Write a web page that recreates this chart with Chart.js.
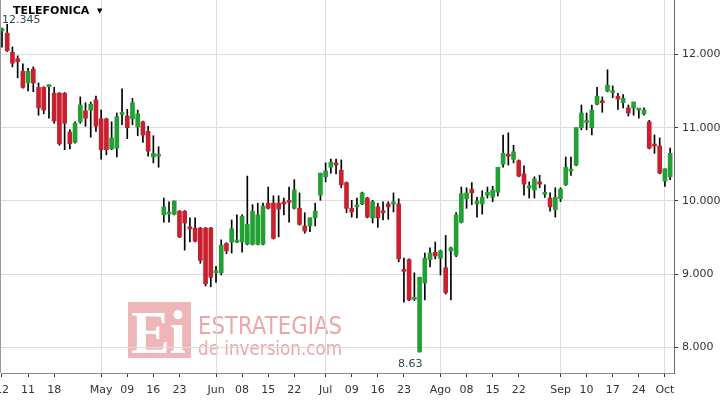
<!DOCTYPE html>
<html>
<head>
<meta charset="utf-8">
<title>TELEFONICA</title>
<script src="https://cdn.jsdelivr.net/npm/chart.js@4.4.1/dist/chart.umd.min.js"></script>
<style>
  html, body { margin: 0; padding: 0; background: #fff; overflow: hidden; }
  canvas { display: block; }
</style>
</head>
<body>
<canvas id="chart" width="724" height="403"></canvas>
<script>
// Daily candles, one entry per trading day
const opens = [
  12.32, 12.29, 12.03, 11.94, 11.77, 11.61, 11.80, 11.55, 11.55, 11.56,
  11.47, 11.47, 11.47, 10.94, 10.80, 11.08, 11.23, 11.24, 11.38, 11.12,
  11.12, 10.71, 10.72, 11.18, 11.16, 11.12, 11.01, 11.08, 10.95, 10.60,
  10.61, 9.81, 9.82, 9.82, 9.86, 9.86, 9.63, 9.63, 9.63, 9.63,
  9.63, 9.02, 9.02, 9.42, 9.44, 9.44, 9.44, 9.41, 9.41, 9.41,
  9.41, 9.97, 9.97, 9.97, 9.97, 9.99, 9.90, 9.90, 9.66, 9.66,
  9.77, 10.08, 10.33, 10.46, 10.50, 10.42, 10.25, 9.90, 9.92, 9.96,
  10.04, 9.77, 9.92, 9.85, 9.96, 9.96, 9.96, 9.05, 9.20, 8.66,
  7.94, 8.88, 9.20, 9.30, 9.22, 9.09, 9.32, 9.26, 9.71, 10.03,
  10.16, 9.96, 9.96, 10.08, 10.05, 10.12, 10.50, 10.62, 10.57, 10.55,
  10.37, 10.18, 10.15, 10.26, 10.09, 10.04, 9.88, 10.03, 10.22, 10.41,
  10.49, 11.00, 11.07, 11.00, 11.32, 11.35, 11.50, 11.48, 11.43, 11.34,
  11.27, 11.27, 11.24, 11.19, 11.08, 10.76, 10.75, 10.27, 10.33
];
const highs = [
  12.36, 12.41, 12.10, 11.98, 11.87, 11.81, 11.83, 11.61, 11.56, 11.58,
  11.55, 11.48, 11.48, 10.97, 11.08, 11.42, 11.34, 11.35, 11.43, 11.24,
  11.13, 11.08, 11.20, 11.53, 11.25, 11.40, 11.24, 11.09, 11.02, 10.89,
  10.74, 10.04, 9.99, 10.00, 9.87, 9.87, 9.77, 9.77, 9.64, 9.64,
  9.64, 9.11, 9.47, 9.43, 9.74, 9.81, 9.81, 10.34, 9.95, 9.97,
  9.97, 10.19, 10.07, 10.07, 10.04, 10.19, 10.29, 10.11, 9.84, 9.77,
  9.97, 10.38, 10.52, 10.57, 10.57, 10.56, 10.26, 10.01, 10.04, 10.12,
  10.05, 10.01, 9.97, 9.99, 9.99, 10.11, 10.03, 9.22, 9.21, 9.02,
  8.96, 9.29, 9.36, 9.44, 9.33, 9.53, 9.37, 9.84, 10.19, 10.18,
  10.25, 10.05, 10.14, 10.19, 10.20, 10.46, 10.90, 10.93, 10.76, 10.56,
  10.48, 10.26, 10.33, 10.35, 10.22, 10.11, 10.18, 10.18, 10.60, 10.60,
  11.00, 11.31, 11.20, 11.31, 11.55, 11.42, 11.79, 11.57, 11.47, 11.45,
  11.31, 11.35, 11.26, 11.27, 11.10, 10.90, 10.86, 10.44, 10.72
];
const lows = [
  12.10, 12.04, 11.83, 11.68, 11.54, 11.50, 11.49, 11.17, 11.19, 11.13,
  11.06, 10.76, 10.70, 10.71, 10.79, 11.06, 11.02, 10.87, 10.95, 10.57,
  10.63, 10.70, 10.60, 11.04, 10.85, 11.04, 10.89, 10.80, 10.61, 10.52,
  10.46, 9.71, 9.71, 9.81, 9.50, 9.33, 9.44, 9.44, 9.15, 8.84,
  8.83, 8.89, 8.99, 9.28, 9.29, 9.43, 9.30, 9.40, 9.40, 9.40,
  9.40, 9.89, 9.48, 9.51, 9.81, 9.71, 9.89, 9.67, 9.56, 9.58,
  9.66, 10.01, 10.26, 10.38, 10.37, 10.18, 9.84, 9.78, 9.77, 9.95,
  9.77, 9.70, 9.64, 9.74, 9.75, 9.85, 9.17, 8.62, 8.64, 8.64,
  7.94, 8.65, 9.10, 9.21, 8.99, 8.73, 8.65, 9.24, 9.70, 9.90,
  9.95, 9.78, 9.82, 10.04, 9.99, 10.07, 10.46, 10.49, 10.52, 10.33,
  10.08, 10.04, 10.04, 10.18, 10.05, 9.86, 9.78, 9.99, 10.21, 10.35,
  10.48, 10.97, 10.97, 10.90, 11.31, 11.21, 11.49, 11.41, 11.25, 11.27,
  11.16, 11.17, 11.13, 11.17, 10.71, 10.65, 10.37, 10.20, 10.29
];
const closes = [
  12.35, 12.05, 11.88, 11.90, 11.55, 11.77, 11.61, 11.27, 11.24, 11.57,
  11.09, 10.78, 11.06, 10.78, 11.06, 11.31, 11.13, 11.32, 11.02, 10.70,
  10.70, 10.86, 11.15, 11.19, 11.00, 11.34, 11.19, 10.90, 10.68, 10.65,
  10.62, 9.92, 9.83, 10.00, 9.51, 9.70, 9.62, 9.45, 9.19, 8.87,
  8.96, 9.03, 9.40, 9.32, 9.62, 9.45, 9.79, 9.68, 9.86, 9.81,
  9.93, 9.90, 9.49, 9.89, 9.96, 9.98, 10.15, 9.68, 9.59, 9.77,
  9.86, 10.38, 10.41, 10.53, 10.49, 10.22, 9.90, 9.85, 9.93, 10.11,
  9.78, 9.99, 9.77, 9.84, 9.92, 9.97, 9.21, 9.04, 8.65, 8.67,
  8.96, 9.22, 9.29, 9.25, 9.32, 8.75, 9.36, 9.81, 10.10, 10.11,
  10.11, 10.00, 10.05, 10.12, 10.15, 10.46, 10.65, 10.61, 10.67, 10.34,
  10.23, 10.19, 10.30, 10.23, 10.10, 9.92, 10.05, 10.16, 10.46, 10.42,
  11.00, 11.20, 11.08, 11.24, 11.43, 11.34, 11.58, 11.49, 11.39, 11.40,
  11.20, 11.35, 11.25, 11.24, 10.72, 10.75, 10.38, 10.44, 10.65
];

// x axis: trading-day index of each tick and its label
const tickIdx  = [0, 5, 10, 19, 24, 29, 34, 41, 46, 51, 56, 62, 67, 72, 77, 84, 89, 94, 99, 107, 112, 117, 122, 127];
const tickText = ['12', '11', '18', 'May', '09', '16', '23', 'Jun', '08', '15', '22', 'Jul', '09', '16', '23', 'Ago', '08', '15', '22', 'Sep', '10', '17', '24', 'Oct'];
const monthIdx = [19, 41, 62, 84, 107, 127];
const yTicks = [8, 9, 10, 11, 12];

const title = 'TELEFONICA';
const maxLabel = '12.345';
const minLabel = '8.63';

const UP = '#22a033';
const DOWN = '#c9202f';

const wicks = highs.map((h, i) => ({ x: i, y: [lows[i], h] }));
const bodies = opens.map((o, i) => ({ x: i, y: [o, closes[i]] }));
const bodyColors = opens.map((o, i) => closes[i] >= o ? UP : DOWN);

function noPadding(s) {
    s.paddingLeft = 0;
    s.paddingRight = 0;
    s.paddingTop = 0;
    s.paddingBottom = 0;
}

// title, min/max labels, watermark and left frame
const decorations = {
    id: 'decorations',
    beforeDraw(chart) {
        const ctx = chart.ctx;
        ctx.save();
        // watermark
        ctx.fillStyle = '#efb6b9';
        ctx.fillRect(128, 302, 63, 56);
        ctx.fillStyle = '#ffffff';
        ctx.font = "bold 62px 'Liberation Serif', serif";
        ctx.textBaseline = 'alphabetic';
        ctx.fillText('Ei', 131, 353, 55);
        ctx.fillStyle = '#eba6aa';
        ctx.font = "25px 'DejaVu Sans', sans-serif";
        ctx.fillText('ESTRATEGIAS', 198, 334, 144);
        ctx.font = "20px 'DejaVu Sans', sans-serif";
        ctx.fillText('de inversion.com', 198, 355, 144);
        ctx.restore();
    },
    afterDraw(chart) {
        const ctx = chart.ctx;
        const area = chart.chartArea;
        ctx.save();
        ctx.strokeStyle = '#9a9a9a';
        ctx.lineWidth = 1;
        ctx.beginPath();
        ctx.moveTo(0.5, 0);
        ctx.lineTo(0.5, area.bottom);
        ctx.stroke();

        ctx.textBaseline = 'alphabetic';
        ctx.fillStyle = '#000';
        ctx.font = "bold 11px 'DejaVu Sans', sans-serif";
        ctx.fillText(title, 13, 14);
        ctx.font = "7px 'DejaVu Sans', sans-serif";
        ctx.fillText('\u25BC', 97, 13);

        ctx.fillStyle = '#2e4a5c';
        ctx.font = "11px 'DejaVu Sans', sans-serif";
        ctx.fillText(maxLabel, 2, 23);
        ctx.fillText(minLabel, 398, 367);
        ctx.restore();
    }
};

Chart.defaults.font.family = "'DejaVu Sans', sans-serif";
Chart.defaults.font.size = 11;
Chart.defaults.color = '#333';

new Chart(document.getElementById('chart'), {
    type: 'bar',
    data: {
        datasets: [
            {
                label: 'Body',
                data: bodies,
                backgroundColor: bodyColors,
                borderWidth: 0,
                barThickness: 4,
                minBarLength: 2,
                grouped: false,
                order: 0
            },
            {
                label: 'Range',
                data: wicks,
                backgroundColor: '#000',
                borderWidth: 0,
                barThickness: 1,
                grouped: false,
                order: 1
            }
        ]
    },
    options: {
        responsive: false,
        devicePixelRatio: 1,
        animation: false,
        layout: { padding: { left: 1, top: 0, right: 0, bottom: 0 } },
        plugins: {
            legend: { display: false },
            tooltip: { enabled: false }
        },
        scales: {
            x: {
                type: 'linear',
                offset: false,
                min: -0.19,
                max: 128.74,
                afterBuildTicks: s => { s.ticks = tickIdx.map(v => ({ value: v })); },
                afterFit: s => { s.height = 30; noPadding(s); },
                grid: {
                    offset: false,
                    color: c => (c.tick && monthIdx.includes(c.tick.value)) ? '#dcdcdc' : 'rgba(0,0,0,0)',
                    tickColor: '#333',
                    tickLength: 4
                },
                border: { color: '#8a8a8a' },
                ticks: {
                    autoSkip: false,
                    maxRotation: 0,
                    padding: 7,
                    callback: v => tickText[tickIdx.indexOf(v)]
                }
            },
            y: {
                position: 'right',
                min: 7.653,
                max: 12.742,
                afterBuildTicks: s => { s.ticks = yTicks.map(v => ({ value: v })); },
                afterFit: s => { s.width = 50; noPadding(s); },
                grid: {
                    color: '#dcdcdc',
                    tickColor: '#333',
                    tickLength: 4
                },
                border: { color: '#666' },
                ticks: {
                    padding: 4,
                    callback: v => v.toFixed(3)
                }
            }
        }
    },
    plugins: [decorations]
});
</script>
</body>
</html>
